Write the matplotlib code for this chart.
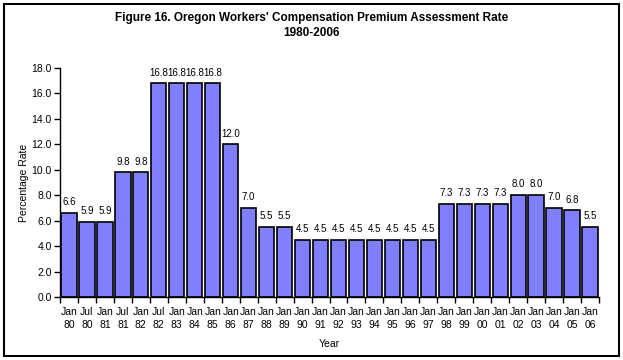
import matplotlib.pyplot as plt
import numpy as np
from matplotlib.patches import Rectangle

plt.rcParams['font.family'] = ['Liberation Sans', 'DejaVu Sans']

# 데이터
labels = ['Jan\n80', 'Jul\n80', 'Jan\n81', 'Jul\n81', 'Jan\n82', 'Jul\n82', 'Jan\n83', 'Jan\n84',
          'Jan\n85', 'Jan\n86', 'Jan\n87', 'Jan\n88', 'Jan\n89', 'Jan\n90', 'Jan\n91', 'Jan\n92',
          'Jan\n93', 'Jan\n94', 'Jan\n95', 'Jan\n96', 'Jan\n97', 'Jan\n98', 'Jan\n99', 'Jan\n00',
          'Jan\n01', 'Jan\n02', 'Jan\n03', 'Jan\n04', 'Jan\n05', 'Jan\n06']
rates = [6.6, 5.9, 5.9, 9.8, 9.8, 16.8, 16.8, 16.8, 16.8, 12.0, 7.0, 5.5, 5.5, 4.5, 4.5,
         4.5, 4.5, 4.5, 4.5, 4.5, 4.5, 7.3, 7.3, 7.3, 7.3, 8.0, 8.0, 7.0, 6.8, 5.5]
yticks = np.arange(0, 18.1, 2.0)

fig = plt.figure(figsize=(6.23, 3.6), dpi=100)
# 바깥 테두리
fig.patches.append(Rectangle((4 / 623, 1 - 356 / 360), 615 / 623, 352 / 360,
                             transform=fig.transFigure, fill=False, ec='black', lw=1.5))

ax = fig.add_axes([60 / 623, 1 - 297 / 360, 539 / 623, 229 / 360])
x = np.arange(len(rates))
bars = ax.bar(x, rates, width=0.85, color='#8080FF', edgecolor='black', linewidth=1.2)

for xi, v in zip(x, rates):
    ax.text(xi, v + 0.45, f'{v:.1f}', ha='center', va='bottom', fontsize=7)

ax.set_xlim(-0.5, len(rates) - 0.5)
ax.set_ylim(0, 18)
ax.set_yticks(yticks)
ax.set_yticklabels([f'{t:.1f}' for t in yticks], fontsize=7.5)
ax.set_xticks(x)
ax.set_xticklabels(labels, fontsize=7.5, linespacing=1.45)
ax.set_xticks(np.arange(-0.5, len(rates)), minor=True)
ax.tick_params(axis='x', which='major', length=0, pad=7)
ax.tick_params(axis='x', which='minor', length=4, direction='out', width=1)
ax.tick_params(axis='y', length=4, direction='out', width=1, pad=2)

for side in ['top', 'right']:
    ax.spines[side].set_visible(False)
ax.spines['left'].set_linewidth(1)
ax.spines['bottom'].set_linewidth(1)

ax.set_ylabel('Percentage Rate', fontsize=7.5, labelpad=2)
ax.set_xlabel('Year', fontsize=7.5, labelpad=6)

fig.text(0.5, 1 - 12 / 360, "Figure 16. Oregon Workers' Compensation Premium Assessment Rate\n1980-2006",
         ha='center', va='top', fontsize=8.5, fontweight='bold', linespacing=1.3,
         family=['Liberation Sans Narrow', 'Liberation Sans', 'DejaVu Sans'])

fig.savefig('out.png', dpi=100)
